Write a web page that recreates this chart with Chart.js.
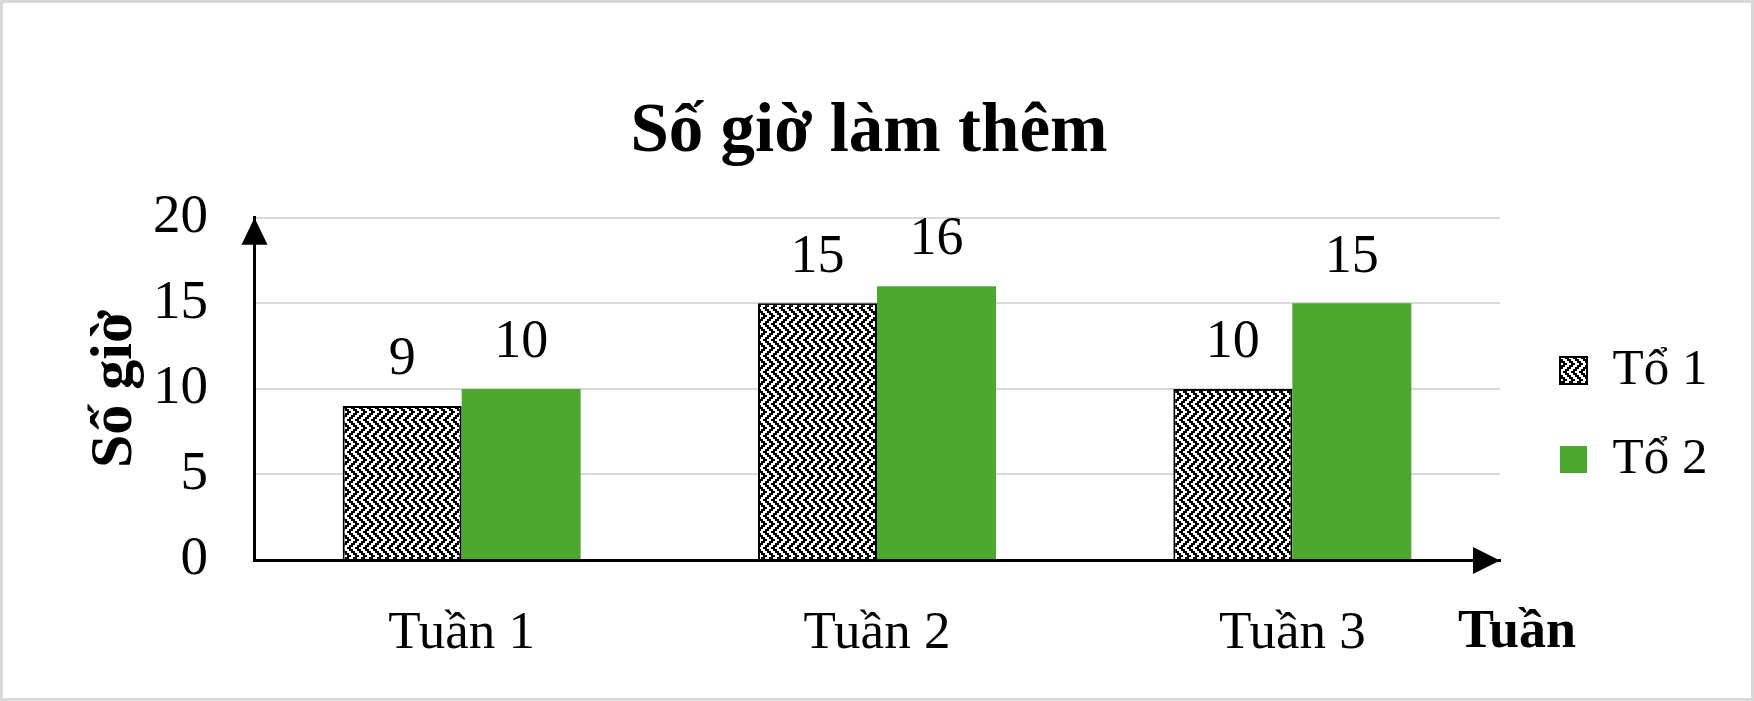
<!DOCTYPE html>
<html>
<head>
<meta charset="utf-8">
<script src="https://cdn.jsdelivr.net/npm/chart.js@4.4.0/dist/chart.umd.min.js"></script>
<style>
  html, body { margin: 0; padding: 0; background: #fff; }
  #wrap { width: 1754px; height: 701px; box-sizing: border-box; border: 3px solid #d9d9d9; background: #fff; }
  #wrap canvas { display: block; }
</style>
</head>
<body>
<div id="wrap"><canvas id="myChart" width="1748" height="695"></canvas></div>
<script>
// Set Data
const categories = ["Tuần 1", "Tuần 2", "Tuần 3"];
const seriesNames = ["Tổ 1", "Tổ 2"];
const to1 = [9, 15, 10];
const to2 = [10, 16, 15];
const yTicks = [0, 5, 10, 15, 20];
const chartTitle = "Số giờ làm thêm";
const yTitle = "Số giờ";
const xTitle = "Tuần";

const serif = "'Times New Roman', 'Liberation Serif', serif";
const green = "#4EA72E";

// pattern zigzag cho Tổ 1
function makePattern() {
  const rows = [
    "11001100",
    "01100110",
    "00110011",
    "10011001",
    "11001100",
    "10011001",
    "00110011",
    "01100110",
  ];
  const cell = 2;
  const c = document.createElement("canvas");
  c.width = rows[0].length * cell;
  c.height = rows.length * cell;
  const g = c.getContext("2d");
  g.fillStyle = "#fff";
  g.fillRect(0, 0, c.width, c.height);
  g.fillStyle = "#000";
  rows.forEach((r, y) => {
    for (let x = 0; x < r.length; x++) {
      if (r[x] === "1") g.fillRect(x * cell, y * cell, cell, cell);
    }
  });
  return document.getElementById("myChart").getContext("2d").createPattern(c, "repeat");
}

// ----------------------Plugins-----------------------
// dịch legend và title về đúng chỗ
const nudge = {
  id: "nudge",
  afterLayout(chart) {
    const lg = chart.legend;
    lg.left = 1519;
    lg.top = 304;
    lg.right = chart.width;
    lg.bottom = lg.top + 250;
    const t = chart.titleBlock;
    t.left = 0;
    t.right = 1732;
  },
};

const extras = {
  id: "extras",
  afterDatasetsDraw(chart) {
    const ctx = chart.ctx;
    ctx.save();
    ctx.fillStyle = "#000";
    ctx.font = "54px " + serif;
    ctx.textAlign = "center";
    ctx.textBaseline = "middle";
    chart.data.datasets.forEach((ds, i) => {
      chart.getDatasetMeta(i).data.forEach((bar, j) => {
        ctx.fillText(String(ds.data[j]), bar.x, bar.y - 46);
      });
    });
    ctx.restore();
  },
  afterDraw(chart) {
    const ctx = chart.ctx;
    const { left, right, top, bottom } = chart.chartArea;
    ctx.save();
    ctx.fillStyle = "#000";
    // mũi tên trục tung
    ctx.beginPath();
    ctx.moveTo(left + 0.5, top);
    ctx.lineTo(left - 12.5, top + 27);
    ctx.lineTo(left + 13.5, top + 27);
    ctx.closePath();
    ctx.fill();
    // mũi tên trục hoành
    ctx.beginPath();
    ctx.moveTo(right, bottom + 0.5);
    ctx.lineTo(right - 27, bottom - 13);
    ctx.lineTo(right - 27, bottom + 14);
    ctx.closePath();
    ctx.fill();
    // tên trục hoành
    ctx.font = "bold 54px " + serif;
    ctx.textAlign = "left";
    ctx.textBaseline = "middle";
    ctx.fillText(xTitle, 1455, bottom + 73);
    ctx.restore();
  },
};

// ----------------------Bar Chart-----------------------
new Chart("myChart", {
  type: "bar",
  data: {
    labels: categories,
    datasets: [
      {
        label: seriesNames[0],
        data: to1,
        backgroundColor: makePattern(),
        borderColor: "#000",
        borderWidth: 2,
      },
      {
        label: seriesNames[1],
        data: to2,
        backgroundColor: green,
        borderWidth: 0,
      },
    ],
  },
  plugins: [nudge, extras],
  options: {
    responsive: false,
    animation: false,
    devicePixelRatio: 1,
    layout: { padding: { top: 0, left: 0, bottom: 0, right: 251 } },
    datasets: {
      bar: { categoryPercentage: 0.573, barPercentage: 1.0 },
    },
    plugins: {
      title: {
        display: true,
        text: chartTitle,
        color: "#000",
        font: { family: serif, size: 69, weight: "bold" },
        padding: { top: 89, bottom: 43 },
      },
      legend: {
        position: "chartArea",
        align: "start",
        labels: {
          color: "#000",
          font: { family: serif, size: 51 },
          boxWidth: 27,
          boxHeight: 27,
          padding: 38,
        },
      },
      tooltip: { enabled: false },
    },
    scales: {
      x: {
        z: 1,
        grid: { display: false, drawTicks: false },
        border: { display: true, color: "#000", width: 3 },
        ticks: { color: "#000", font: { family: serif, size: 53 }, padding: 42 },
        afterFit(scale) {
          scale.height = 138;
        },
      },
      y: {
        min: 0,
        max: 20,
        afterBuildTicks(scale) {
          scale.ticks = yTicks.map((v) => ({ value: v }));
        },
        grid: { color: "#d9d9d9", lineWidth: 2, drawTicks: false },
        border: { display: true, color: "#000", width: 3 },
        ticks: { color: "#000", font: { family: serif, size: 55 }, padding: 46 },
        title: {
          display: true,
          text: yTitle,
          color: "#000",
          font: { family: serif, size: 60, weight: "bold" },
          padding: { top: 76, bottom: 0 },
        },
        afterFit(scale) {
          scale.width = 251;
        },
      },
    },
  },
});
</script>
</body>
</html>
